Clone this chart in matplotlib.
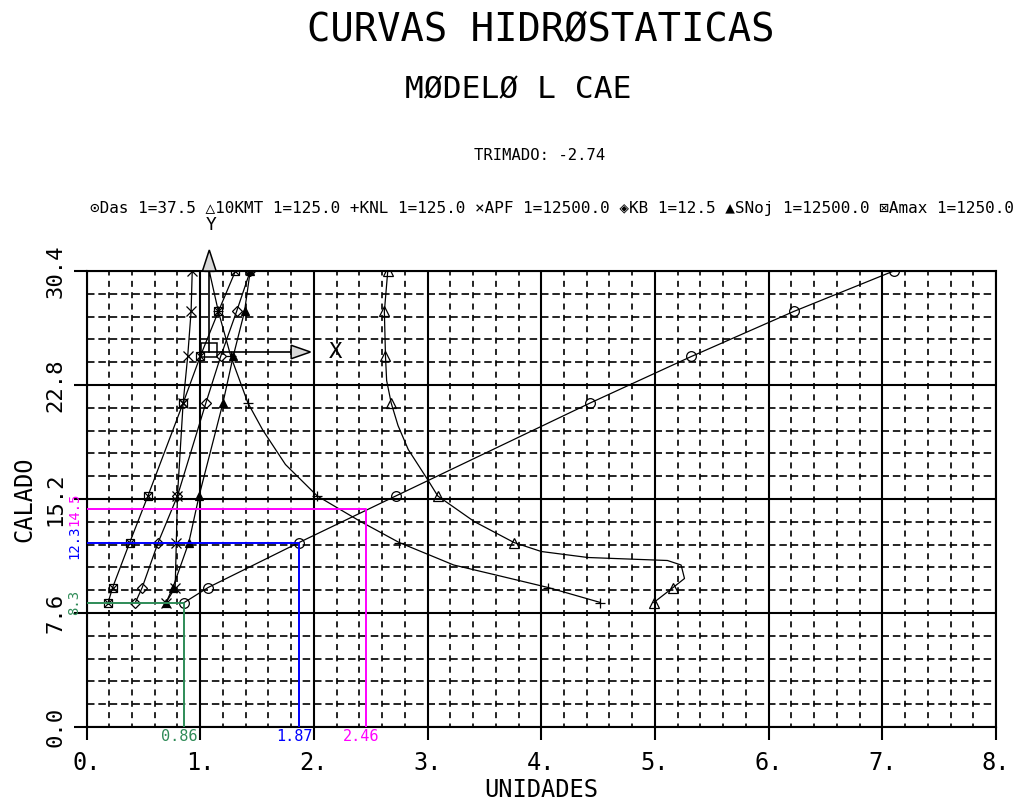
import matplotlib
matplotlib.use("Agg")
import matplotlib.pyplot as plt
import numpy as np
from matplotlib.patches import Polygon, Rectangle

plt.rcParams['lines.scale_dashes'] = False
MONO = ['DejaVu Sans Mono', 'DejaVu Sans']
PX = 72.0 / 100.0  # points per pixel at 100 dpi

# ---- hydrostatic data (draft vs scaled value) ----
drafts = [8.3, 9.3, 12.3, 15.4, 21.6, 24.7, 27.7, 30.4]
das = [0.86, 1.07, 1.87, 2.72, 4.43, 5.32, 6.22, 7.10]
kmt = [4.99, 5.16, 3.76, 3.09, 2.68, 2.63, 2.62, 2.65]
knl = [4.52, 4.06, 2.75, 2.03, 1.42, 1.27, 1.16, 1.08]
apf = [0.70, 0.78, 0.79, 0.80, 0.85, 0.89, 0.92, 0.93]
kb = [0.43, 0.49, 0.63, 0.80, 1.05, 1.18, 1.32, 1.44]
snoj = [0.70, 0.76, 0.90, 0.99, 1.20, 1.29, 1.39, 1.44]
amax = [0.19, 0.23, 0.38, 0.54, 0.85, 1.00, 1.16, 1.31]

# smoothed plotter paths of the two curved series
kmt_path_x = [4.99, 5.16, 5.26, 5.23, 5.11, 4.41, 4.00, 3.76, 3.41, 3.09,
              3.00, 2.83, 2.74, 2.68, 2.64, 2.63, 2.62, 2.65]
kmt_path_y = [8.3, 9.3, 9.9, 10.8, 11.1, 11.3, 11.7, 12.3, 13.7, 15.4,
              16.5, 18.5, 20.1, 21.6, 23.1, 24.7, 27.7, 30.4]
knl_path_x = [4.52, 4.06, 3.62, 3.23, 2.75, 2.41, 2.03, 1.75, 1.55, 1.42,
              1.27, 1.16, 1.08]
knl_path_y = [8.3, 9.3, 10.1, 10.8, 12.3, 13.7, 15.4, 17.5, 19.8, 21.6,
              24.7, 27.7, 30.4]

# read-off lines (draft -> Das)
read_drafts = [8.3, 12.3, 14.5]
read_values = [0.86, 1.87, 2.46]
read_colors = ['#2e8b57', '#0000ff', '#ff00ff']

x_ticks = [0, 1, 2, 3, 4, 5, 6, 7, 8]
x_labels = ['0.', '1.', '2.', '3.', '4.', '5.', '6.', '7.', '8.']
y_ticks = [0.0, 7.6, 15.2, 22.8, 30.4]
y_labels = ['0.0', '7.6', '15.2', '22.8', '30.4']

legend_line = ("⊙Das 1=37.5 △10KMT 1=125.0 +KNL 1=125.0 ×APF 1=12500.0 "
               "◈KB 1=12.5 ▲SNoj 1=12500.0 ⊠Amax 1=1250.0")

fig = plt.figure(figsize=(10.29, 8.05), dpi=100)
ax = fig.add_axes([86.5 / 1029, (805 - 727) / 805, 909.5 / 1029, 456 / 805])
ax.set_xlim(0, 8)
ax.set_ylim(0, 30.4)

# ---- grid ----
x_minor = np.arange(0, 8.001, 0.2)
y_minor = np.arange(0, 30.401, 1.52)
for xv in x_minor:
    if abs(xv - round(xv)) > 1e-6:
        ax.axvline(xv, color='black', lw=1.2,
                   linestyle=(2.5 * PX, (6 * PX, 5.35 * PX)), zorder=1)
for yv in y_minor:
    if min(abs(yv - t) for t in y_ticks) > 1e-6:
        ax.axhline(yv, color='black', lw=1.2,
                   linestyle=(0, (7.5 * PX, 3.85 * PX)), zorder=1)
for xv in x_ticks:
    ax.axvline(xv, color='black', lw=1.5, zorder=1)
for yv in y_ticks:
    ax.axhline(yv, color='black', lw=1.5, zorder=1)

for s in ax.spines.values():
    s.set_linewidth(1.5)

ax.set_xticks(x_ticks)
ax.set_xticklabels(x_labels, family=MONO, fontsize=17)
ax.set_yticks(y_ticks)
ax.set_yticklabels(y_labels, family=MONO, fontsize=16, rotation=90,
                   va='center', ha='right')
ax.tick_params(axis='both', which='major', length=13 * PX, width=1.5,
               direction='out')
ax.tick_params(axis='x', pad=8)
ax.tick_params(axis='y', pad=6)

ax.set_xlabel('UNIDADES', family=MONO, fontsize=17, labelpad=2)
ax.set_ylabel('CALADO', family=MONO, fontsize=17, labelpad=6)

# ---- curves ----
lkw = dict(color='black', lw=0.9, zorder=4)
mkw = dict(color='black', mew=0.9, ms=7, linestyle='none', zorder=5)

ax.plot(das, drafts, **lkw)
ax.plot(das, drafts, marker='o', mfc='none', **mkw)

ax.plot(kmt_path_x, kmt_path_y, **lkw)
ax.plot(kmt, drafts, marker='^', mfc='none', **mkw)

ax.plot(knl_path_x, knl_path_y, **lkw)
ax.plot(knl, drafts, marker='+', **mkw)

ax.plot(apf, drafts, **lkw)
ax.plot(apf, drafts, marker='x', **mkw)

ax.plot(kb, drafts, **lkw)
ax.plot(kb, drafts, marker='D', mfc='none', **{**mkw, 'ms': 5.5})

ax.plot(snoj, drafts, **lkw)
ax.plot(snoj, drafts, marker='^', mfc='black', **{**mkw, 'ms': 5.5})

ax.plot(amax, drafts, **lkw)
ax.plot(amax, drafts, marker='s', mfc='none', **{**mkw, 'ms': 6})
ax.plot(amax, drafts, marker='x', **{**mkw, 'ms': 6})

# ---- read-off lines ----
for d, v, c in zip(read_drafts, read_values, read_colors):
    ax.plot([0, v, v], [d, d, 0], color=c, lw=1.4, zorder=6)
    ax.text(-0.11, d, f'{d:.1f}', color=c, rotation=90, ha='center',
            va='center', family=MONO, fontsize=10, clip_on=False)
    ax.text(v - 0.04, -0.65, f'{v:.2f}', color=c, ha='center', va='center',
            family=MONO, fontsize=11, clip_on=False)

# ---- reference axes symbol ----
ax0x, ax0y = 1.08, 25.0
ax.plot([ax0x, ax0x], [ax0y, 30.4], color='black', lw=1.2, zorder=6,
        clip_on=False)
ax.add_patch(Polygon([[1.02, 30.4], [1.14, 30.4], [ax0x, 31.8]], closed=True,
                     facecolor='#d8d8d8', edgecolor='black', lw=1.1,
                     zorder=6, clip_on=False))
ax.plot([1.01, 1.80], [ax0y, ax0y], color='black', lw=1.2, zorder=6)
ax.add_patch(Polygon([[1.80, ax0y - 0.45], [1.80, ax0y + 0.45], [1.97, ax0y]],
                     closed=True, facecolor='#d8d8d8', edgecolor='black',
                     lw=1.1, zorder=6))
ax.add_patch(Rectangle((1.01, 24.67), 0.14, 0.95, fill=False,
                       edgecolor='black', lw=1.1, zorder=6))
ax.text(2.19, ax0y, 'X', family=MONO, fontsize=16, ha='center',
        va='center', zorder=6)
ax.text(1.10, 33.5, 'Y', family=MONO, fontsize=13, ha='center',
        va='center', clip_on=False)

# ---- titles ----
fig.text(541 / 1029, 1 - 30 / 805, 'CURVAS HIDRØSTATICAS', family=MONO,
         fontsize=28, ha='center', va='center')
fig.text(518 / 1029, 1 - 90 / 805, 'MØDELØ L CAE', family=MONO,
         fontsize=22.5, ha='center', va='center')
fig.text(540 / 1029, 1 - 155 / 805, 'TRIMADO: -2.74', family=MONO,
         fontsize=11.2, ha='center', va='center')
fig.text(552 / 1029, 1 - 208 / 805, legend_line, family=MONO,
         fontsize=11.5, ha='center', va='center')

fig.savefig('out.png', dpi=100)
